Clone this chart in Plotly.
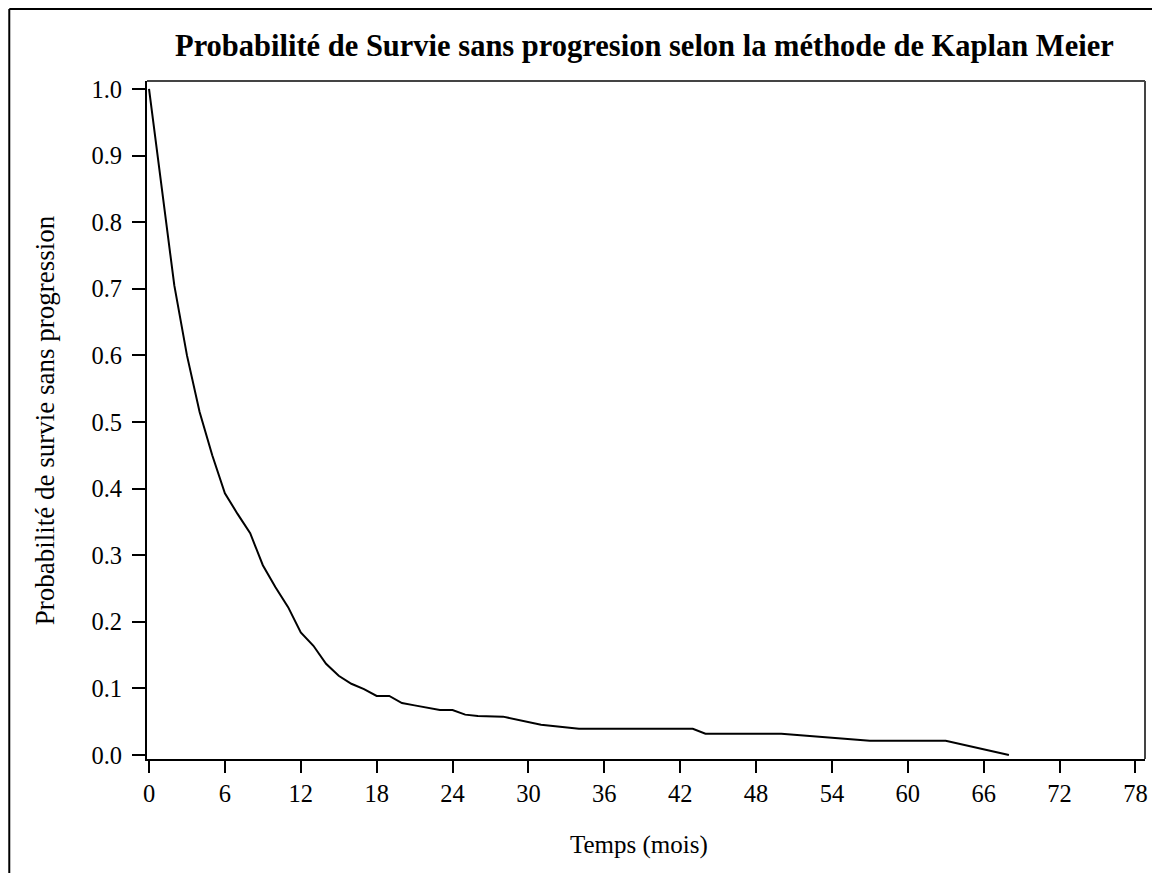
import plotly.graph_objects as go

# Kaplan-Meier estimate
temps = [0, 1, 2, 3, 4, 5, 6, 7, 8, 9, 10, 11, 12, 13, 14, 15, 16, 17, 18, 19, 20,
         21, 22, 23, 24, 25, 26, 28, 31, 34, 43, 44, 50, 57, 63, 68]
survie = [1.0, 0.855, 0.705, 0.600, 0.515, 0.450, 0.393, 0.362, 0.333, 0.285, 0.252,
          0.222, 0.184, 0.164, 0.137, 0.119, 0.107, 0.099, 0.0886, 0.0886, 0.078,
          0.0745, 0.0715, 0.0676, 0.0676, 0.0606, 0.0586, 0.0576, 0.0455, 0.0395,
          0.0395, 0.032, 0.032, 0.0215, 0.0215, 0.0]

x_ticks = list(range(0, 79, 6))
y_ticks = [0.0, 0.1, 0.2, 0.3, 0.4, 0.5, 0.6, 0.7, 0.8, 0.9, 1.0]
y_labels = [f"{v:.1f}" for v in y_ticks]

title_text = "Probabilité de Survie sans progresion selon la méthode de Kaplan Meier"
x_title = "Temps (mois)"
y_title = "Probabilité de survie sans progression"

FONT = "Liberation Serif, Times New Roman, serif"

# the page adds an 8px margin; the figure itself is placed at (8, 8)
OFF = 8
W, H = 1160 - OFF, 873 - OFF
L, R, T, B = 147 - OFF, 13, 81 - OFF, 114
PW, PH = W - L - R, H - T - B


def px(xs):
    """screen x (reference pixels) -> paper x"""
    return (xs - OFF - L) / PW


def py(ys):
    """screen y (reference pixels) -> paper y"""
    return (H - B - (ys - OFF)) / PH


fig = go.Figure()
fig.add_trace(go.Scatter(x=temps, y=survie, mode="lines",
                         line=dict(color="black", width=2), hoverinfo="x+y",
                         showlegend=False))

fig.update_layout(
    width=W, height=H,
    margin=dict(l=L, r=R, t=T, b=B, pad=0),
    paper_bgcolor="white", plot_bgcolor="white",
    font=dict(family=FONT, color="black", size=24),
    xaxis=dict(range=[-0.16, 78.76], tickvals=x_ticks, ticks="outside", ticklen=12,
               tickwidth=2, tickcolor="black", showgrid=False, zeroline=False,
               showline=True, linecolor="black", linewidth=2,
               tickfont=dict(family=FONT, size=24.5, color="black")),
    yaxis=dict(range=[-0.006, 1.012], tickvals=y_ticks, ticktext=y_labels,
               ticks="outside", ticklen=13, tickwidth=2, tickcolor="black",
               showgrid=False, zeroline=False, showline=True, linecolor="black",
               linewidth=2, ticklabelstandoff=5,
               tickfont=dict(family=FONT, size=24.5, color="black")),
    shapes=[
        # top and right frame of the plot area
        dict(type="line", xref="paper", yref="paper", x0=0, x1=1, y0=1, y1=1,
             line=dict(color="#444444", width=2)),
        dict(type="line", xref="paper", yref="paper", x0=1, x1=1, y0=0, y1=1,
             line=dict(color="#444444", width=2)),
        # outer border (top and left)
        dict(type="line", xref="paper", yref="paper",
             x0=px(OFF + 1), x1=px(1160 + 10), y0=py(OFF + 1), y1=py(OFF + 1),
             line=dict(color="black", width=2)),
        dict(type="line", xref="paper", yref="paper",
             x0=px(OFF + 1), x1=px(OFF + 1), y0=py(OFF + 1), y1=py(873 + 10),
             line=dict(color="black", width=2)),
    ],
    annotations=[
        dict(text=f"<b>{title_text}</b>", xref="paper", yref="paper",
             x=px(645), y=py(46.5), xanchor="center", yanchor="middle",
             showarrow=False, font=dict(family=FONT, size=30.5, color="black")),
        dict(text=x_title, xref="paper", yref="paper",
             x=px(640), y=py(845), xanchor="center", yanchor="middle",
             showarrow=False, font=dict(family=FONT, size=25, color="black")),
        dict(text=y_title, xref="paper", yref="paper",
             x=px(45), y=py(420), xanchor="center", yanchor="middle",
             showarrow=False, textangle=-90,
             font=dict(family=FONT, size=27, color="black")),
    ],
)

fig.write_html("out.html")
